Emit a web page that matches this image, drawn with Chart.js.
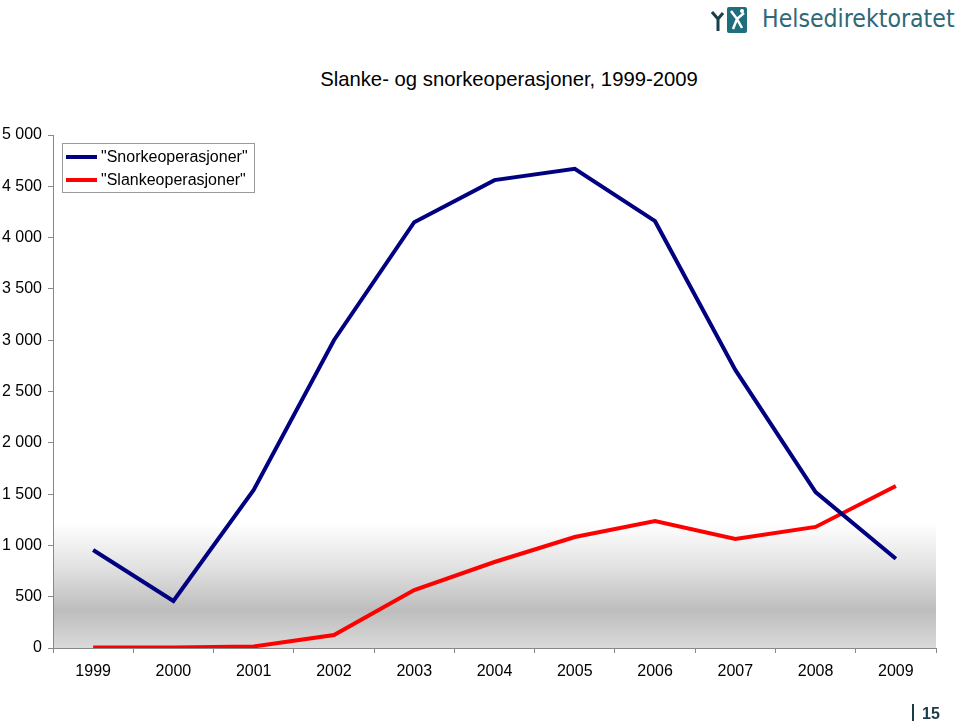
<!DOCTYPE html>
<html>
<head>
<meta charset="utf-8">
<script src="https://cdn.jsdelivr.net/npm/chart.js@4/dist/chart.umd.min.js"></script>
<style>
    html, body { margin: 0; padding: 0; background: #fff; }
    #wrap { position: relative; width: 960px; height: 724px; overflow: hidden; font-family: 'Liberation Sans', Arial, sans-serif; }
    #chart { position: absolute; left: 0; top: 0; }
    #title { position: absolute; left: 0; width: 1018px; top: 68px; text-align: center; font-size: 20.3px; color: #000; }
    #logo { position: absolute; left: 711px; top: 4px; height: 32px; }
    #logo .mark { position: absolute; left: 16px; top: 3px; width: 20px; height: 26px; background: #1f6e7e; border-radius: 2px; }
    #logo .fig { position: absolute; left: 0; top: 6px; width: 16px; height: 22px; }
    #logo .txt { position: absolute; left: 51px; top: 0px; font-family: 'DejaVu Sans Condensed', 'DejaVu Sans', sans-serif; font-size: 24.6px; color: #2f6877; white-space: nowrap; }
    #page { position: absolute; left: 912px; top: 704px; font-size: 16px; font-weight: bold; color: #1c3a48; }
    #page span { display: inline-block; width: 2px; height: 17px; background: #1c3a48; margin-right: 8px; vertical-align: -2px; }
</style>
</head>
<body>
<div id="wrap">
    <div id="logo">
        <svg class="fig" viewBox="0 0 16 22"><path d="M1 2 L7 9 L12 3 M7 9 L7 21" stroke="#1b3f4a" stroke-width="3" fill="none"/></svg>
        <div class="mark">
            <svg viewBox="0 0 20 26" width="20" height="26"><path d="M4 4 L10 12 L17 6 M10 12 L6 22 M10 12 L15 21" stroke="#fff" stroke-width="2.5" fill="none"/><circle cx="15" cy="4" r="2" fill="#fff"/></svg>
        </div>
        <div class="txt">Helsedirektoratet</div>
    </div>
    <div id="title">Slanke- og snorkeoperasjoner, 1999-2009</div>
    <canvas id="chart" width="960" height="724"></canvas>
    <div id="page"><span></span>15</div>
</div>
<script>
    'use strict';

    const years = ['1999', '2000', '2001', '2002', '2003', '2004', '2005', '2006', '2007', '2008', '2009'];
    const snorke = [955, 458, 1540, 3000, 4150, 4560, 4670, 4160, 2710, 1520, 870];
    const slanke = [5, 5, 15, 127, 565, 838, 1082, 1238, 1062, 1180, 1579];
    const seriesNames = ['"Snorkeoperasjoner"', '"Slankeoperasjoner"'];
    const seriesColors = ['#000080', '#ff0000'];

    const FONT = "'Liberation Sans', Arial, sans-serif";

    // grey band behind the lower part of the plot
    const bandPlugin = {
        id: 'band',
        beforeDraw: function(chart) {
            const ctx = chart.ctx, a = chart.chartArea;
            const top = 523;
            const g = ctx.createLinearGradient(0, top, 0, a.bottom);
            g.addColorStop(0, '#ffffff');
            g.addColorStop(0.35, '#e2e2e2');
            g.addColorStop(0.7, '#bdbdbd');
            g.addColorStop(1, '#dadada');
            ctx.save();
            ctx.fillStyle = g;
            ctx.fillRect(a.left, top, a.right - a.left, a.bottom - top);
            ctx.restore();
        }
    };

    // legend box inside the plot, top left
    const boxLegend = {
        id: 'boxLegend',
        afterDraw: function(chart) {
            const ctx = chart.ctx;
            const x = 62, y = 143, w = 192, h = 49;
            ctx.save();
            ctx.fillStyle = '#fff';
            ctx.fillRect(x, y, w, h);
            ctx.strokeStyle = '#9a9a9a';
            ctx.lineWidth = 1;
            ctx.strokeRect(x + 0.5, y + 0.5, w, h);
            ctx.font = '16px ' + FONT;
            ctx.textBaseline = 'middle';
            chart.data.datasets.forEach(function(ds, i) {
                const cy = y + 14 + i * 23;
                ctx.strokeStyle = ds.borderColor;
                ctx.lineWidth = 4;
                ctx.beginPath();
                ctx.moveTo(66, cy);
                ctx.lineTo(97, cy);
                ctx.stroke();
                ctx.fillStyle = '#000';
                ctx.fillText(ds.label, 101, cy + 1);
            });
            ctx.restore();
        }
    };

    new Chart(document.getElementById('chart'), {
        type: 'line',
        data: {
            labels: years,
            datasets: [
                { label: seriesNames[0], data: snorke, borderColor: seriesColors[0], borderWidth: 4, pointRadius: 0, tension: 0, borderJoinStyle: 'miter' },
                { label: seriesNames[1], data: slanke, borderColor: seriesColors[1], borderWidth: 4, pointRadius: 0, tension: 0, borderJoinStyle: 'miter' }
            ]
        },
        options: {
            responsive: false,
            animation: false,
            layout: { padding: { left: 0, right: 24, top: 135, bottom: 0 } },
            plugins: { legend: { display: false }, title: { display: false }, tooltip: { enabled: false } },
            scales: {
                x: {
                    offset: true,
                    afterFit: function(s) { s.height = 76; },
                    grid: { offset: true, drawOnChartArea: false, drawTicks: true, tickLength: 5, color: '#888' },
                    border: { color: '#888', width: 1 },
                    ticks: { color: '#000', padding: 9, maxRotation: 0, font: { family: FONT, size: 16 } }
                },
                y: {
                    min: 0, max: 5000,
                    afterFit: function(s) { s.width = 53; },
                    grid: { drawOnChartArea: false, drawTicks: true, tickLength: 5, color: '#888' },
                    border: { color: '#888', width: 1 },
                    ticks: {
                        stepSize: 500, color: '#000', padding: 6,
                        font: { family: FONT, size: 16 },
                        callback: function(v) { return String(v).replace(/\B(?=(\d{3})+(?!\d))/g, ' '); }
                    }
                }
            }
        },
        plugins: [bandPlugin, boxLegend]
    });
</script>
</body>
</html>
